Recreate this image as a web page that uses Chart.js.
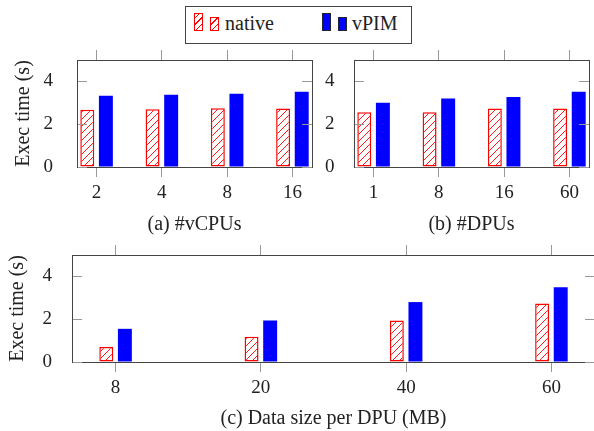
<!doctype html>
<html lang="en">
<head>
  <meta charset="utf-8">
  <title>native vs vPIM exec time</title>
  <style>
    html, body { margin: 0; padding: 0; background: #fff; overflow: hidden; }
    body { width: 594px; height: 431px; position: relative; font-family: "Liberation Serif", serif; color: #222; }
    canvas { position: absolute; }
    #chartA { left: 0; top: 40px; }
    #chartB { left: 320px; top: 40px; }
    #chartC { left: 0; top: 235px; }
    .legendBox { position: absolute; left: 185px; top: 6px; width: 227px; height: 38px; border: 1px solid #444; box-sizing: border-box; }
    .icon { position: absolute; box-sizing: border-box; }
    .hatch { border: 1.5px solid #f00; background: repeating-linear-gradient(-45deg, #fff 0 3.6px, #f00 3.6px 4.6px); }
    .solid { border: 1px solid #223; background: #00f; }
    .legendText { position: absolute; top: 13px; font-size: 20px; line-height: 20px; }
  </style>
</head>
<body>
  <div class="legendBox"></div>
  <div class="icon hatch" style="left:194px; top:13px; width:9px; height:18px;"></div>
  <div class="icon hatch" style="left:210px; top:17px; width:9px; height:14px;"></div>
  <div class="legendText" style="left:225px;">native</div>
  <div class="icon solid" style="left:322px; top:13px; width:9px; height:18px;"></div>
  <div class="icon solid" style="left:338px; top:17px; width:9px; height:14px;"></div>
  <div class="legendText" style="left:352px;">vPIM</div>

  <canvas id="chartA" width="318" height="200"></canvas>
  <canvas id="chartB" width="274" height="200"></canvas>
  <canvas id="chartC" width="596" height="196"></canvas>

  <script src="https://cdn.jsdelivr.net/npm/chart.js@4.4.0/dist/chart.umd.min.js"></script>
  <script>
    // (a) #vCPUs
    const vcpuLabels = ['2', '4', '8', '16'];
    const vcpuNative = [2.67, 2.70, 2.75, 2.73];
    const vcpuVpim = [3.33, 3.38, 3.42, 3.52];
    // (b) #DPUs
    const dpuLabels = ['1', '8', '16', '60'];
    const dpuNative = [2.56, 2.56, 2.73, 2.73];
    const dpuVpim = [3.00, 3.20, 3.27, 3.52];
    // (c) data size per DPU (MB)
    const sizeLabels = ['8', '20', '40', '60'];
    const sizeNative = [0.70, 1.18, 1.94, 2.73];
    const sizeVpim = [1.55, 1.94, 2.80, 3.49];

    const yTicks = [0, 2, 4];

    Chart.defaults.font.family = '"Liberation Serif", serif';
    Chart.defaults.color = '#222';

    const TICK = '#999';
    const EDGE = '#444';

    function hatch() {
      const c = document.createElement('canvas');
      c.width = 7; c.height = 7;
      const g = c.getContext('2d');
      g.fillStyle = '#fff';
      g.fillRect(0, 0, 7, 7);
      g.strokeStyle = '#f00';
      g.lineWidth = 0.9;
      g.beginPath();
      g.moveTo(-1, 8); g.lineTo(8, -1);
      g.moveTo(-1, 1); g.lineTo(1, -1);
      g.moveTo(6, 8); g.lineTo(8, 6);
      g.stroke();
      return g.createPattern(c, 'repeat');
    }

    // fixed box sizes so the plot areas line up with each other
    function fixH(h) {
      return s => { s.height = h; s.paddingLeft = 0; s.paddingRight = 0; };
    }
    function fixW(w) {
      return s => { s.width = w; s.paddingTop = 0; s.paddingBottom = 0; };
    }

    function makeChart(id, labels, nat, vp, o) {
      const idx = labels.map((_, i) => i);
      const pinX = s => { s.ticks = idx.map(v => ({ value: v })); };
      const pinY = s => { s.ticks = yTicks.map(v => ({ value: v })); };
      return new Chart(document.getElementById(id), {
        type: 'bar',
        data: {
          datasets: [{
            label: 'native',
            data: nat.map((v, i) => ({ x: i, y: v })),
            backgroundColor: hatch(),
            borderColor: '#f00',
            borderWidth: 1.5,
            borderSkipped: false
          }, {
            label: 'vPIM',
            data: vp.map((v, i) => ({ x: i, y: v })),
            backgroundColor: '#00f',
            borderWidth: 0
          }]
        },
        options: {
          responsive: false,
          animation: false,
          categoryPercentage: o.cat,
          barPercentage: 0.75,
          layout: { padding: { left: 0, right: o.padRight, top: 0, bottom: 0 } },
          plugins: { legend: { display: false }, tooltip: { enabled: false } },
          scales: {
            x: {
              type: 'linear', position: 'bottom', min: -0.3, max: 3.3, offset: false,
              afterBuildTicks: pinX,
              afterFit: fixH(o.xh),
              grid: { drawOnChartArea: false, offset: false, tickLength: 10, color: TICK },
              border: { color: EDGE, z: 1 },
              ticks: { padding: o.xPad, font: { size: 19 }, callback: v => labels[v] },
              title: { display: true, text: o.title, font: { size: 20 }, padding: { top: 0, bottom: o.titlePad } }
            },
            x2: {
              type: 'linear', position: 'top', min: -0.3, max: 3.3, offset: false,
              afterBuildTicks: pinX,
              afterFit: fixH(20),
              grid: { drawOnChartArea: false, offset: false, tickLength: 10, color: TICK },
              border: { color: EDGE, z: 1 },
              ticks: { display: false }
            },
            y: {
              position: 'left', min: 0, max: 5,
              afterBuildTicks: pinY,
              afterFit: fixW(o.yw),
              grid: { drawOnChartArea: false, tickLength: -10, color: TICK, z: 1 },
              border: { color: EDGE, z: 1 },
              ticks: { padding: o.yPad, font: { size: 19 } },
              title: { display: o.yTitle, text: 'Exec time (s)', font: { size: 20 }, padding: { top: o.yTitlePad, bottom: 0 } }
            },
            y2: {
              position: 'right', min: 0, max: 5,
              afterBuildTicks: pinY,
              afterFit: fixW(0),
              grid: { drawOnChartArea: false, tickLength: -10, color: TICK, z: 1 },
              border: { color: EDGE, z: 1 },
              ticks: { display: false }
            }
          }
        }
      });
    }

    makeChart('chartA', vcpuLabels, vcpuNative, vcpuVpim, {
      cat: 0.57, padRight: 6, xh: 73, xPad: 4.6, title: '(a) #vCPUs', titlePad: 3.5,
      yw: 77, yPad: 34, yTitle: true, yTitlePad: 11.5
    });
    makeChart('chartB', dpuLabels, dpuNative, dpuVpim, {
      cat: 0.57, padRight: 5, xh: 73, xPad: 4.6, title: '(b) #DPUs', titlePad: 3.5,
      yw: 34, yPad: 29.5, yTitle: false, yTitlePad: 0
    });
    makeChart('chartC', sizeLabels, sizeNative, sizeVpim, {
      cat: 0.256, padRight: 1, xh: 69, xPad: 5.1, title: '(c) Data size per DPU (MB)', titlePad: 0.5,
      yw: 72, yPad: 30, yTitle: true, yTitlePad: 5.5
    });
  </script>
</body>
</html>
